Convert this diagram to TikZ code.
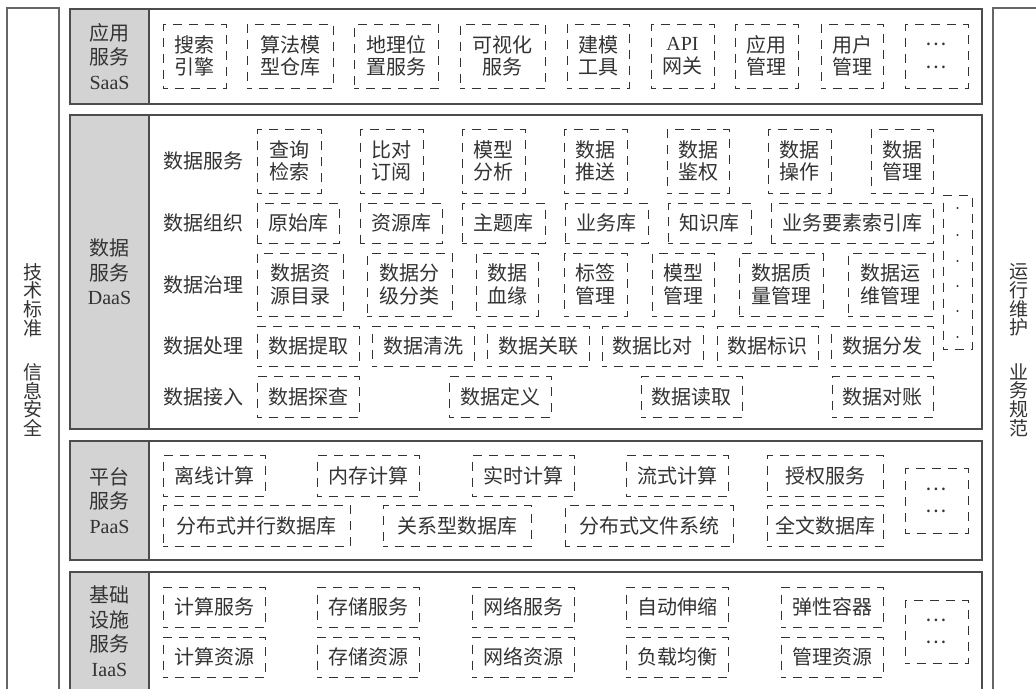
\documentclass[tikz,border=0pt]{standalone}
\usepackage{fontspec}
\setmainfont{Liberation Serif}
\newfontfamily\cjk{Noto Sans CJK SC}
\newcommand\lat[1]{{\rmfamily #1}}
\newcommand\vfont{\cjk\fontsize{19}{18.7}\selectfont\lineskiplimit=-30pt\relax\lineskip=0pt\relax}
\definecolor{cellgray}{HTML}{D3D3D3}
\definecolor{ink}{HTML}{333333}
\tikzset{
  dbox/.style={draw=ink, line width=0.9pt, dash pattern=on 9pt off 7pt, dash phase=4.5pt,
    inner sep=0pt, align=center, text=ink, font=\cjk\fontsize{20}{22.5}\selectfont},
  frame/.style={draw=black!70, line width=1.2pt},
  cell/.style={frame, fill=cellgray},
  lbl/.style={text=ink, align=center, inner sep=0pt,
    font=\cjk\fontsize{20}{24.5}\selectfont},
  rowlbl/.style={text=ink, inner sep=0pt, font=\cjk\fontsize{20}{22.5}\selectfont},
  side/.style={draw=black!60, line width=1.2pt},
  vtxt/.style={text=ink, align=center, inner sep=0pt, font=\vfont},
}
\newcommand\dbox[6]{\node[dbox, minimum width={(#4-#2)*1pt}, minimum height={(#5-#3)*1pt}] (#1) at ({(#2+#4)/2},{(#3+#5)/2}) {#6};}
\begin{document}
\begin{tikzpicture}[x=1pt,y=-1pt]
\useasboundingbox (0,0) rectangle (1036,688);
\clip (0,0) rectangle (1036,688);
\fill[white] (0,0) rectangle (1036,688);

% side columns
\draw[side] (7,8) rectangle (59,700);
\draw[side] (993,8) rectangle (1045,700);
\node[vtxt] (l1) at (33,300) {技\\术\\标\\准};
\node[vtxt] (l2) at (33,400) {信\\息\\安\\全};
\node[vtxt] (r1) at (1019,300) {运\\行\\维\\护};
\node[vtxt] (r2) at (1019,400) {业\\务\\规\\范};

% SaaS
\draw[frame] (70,9) rectangle (982,104);
\draw[cell] (70,9) rectangle (149,104);
\node[lbl] (saas) at (109.5,56.5) {应用\\服务\\\lat{SaaS}};
\dbox{s1}{163}{24}{226}{88}{搜索\\引擎}
\dbox{s2}{247}{24}{333}{88}{算法模\\型仓库}
\dbox{s3}{354}{24}{438}{88}{地理位\\置服务}
\dbox{s4}{460}{24}{545}{88}{可视化\\服务}
\dbox{s5}{567}{24}{629}{88}{建模\\工具}
\dbox{s6}{651}{24}{714}{88}{\lat{API}\\网关}
\dbox{s7}{735}{24}{798}{88}{应用\\管理}
\dbox{s8}{821}{24}{883}{88}{用户\\管理}
\dbox{s9}{905}{24}{968}{88}{…\\…}

% DaaS
\draw[frame] (70,115) rectangle (982,429);
\draw[cell] (70,115) rectangle (149,429);
\node[lbl] (daas) at (109.5,272) {数据\\服务\\\lat{DaaS}};
\node[rowlbl] (dl1) at (203,161) {数据服务};
\node[rowlbl] (dl2) at (203,223) {数据组织};
\node[rowlbl] (dl3) at (203,284.5) {数据治理};
\node[rowlbl] (dl4) at (203,346) {数据处理};
\node[rowlbl] (dl5) at (203,396.5) {数据接入};
% row 1
\dbox{d11}{257}{129}{321}{193}{查询\\检索}
\dbox{d12}{360}{129}{423}{193}{比对\\订阅}
\dbox{d13}{462}{129}{525}{193}{模型\\分析}
\dbox{d14}{564}{129}{627}{193}{数据\\推送}
\dbox{d15}{667}{129}{729}{193}{数据\\鉴权}
\dbox{d16}{768}{129}{831}{193}{数据\\操作}
\dbox{d17}{871}{129}{933}{193}{数据\\管理}
% row 2
\dbox{d21}{257}{203}{339}{243}{原始库}
\dbox{d22}{360}{203}{442}{243}{资源库}
\dbox{d23}{462}{203}{545}{243}{主题库}
\dbox{d24}{565}{203}{648}{243}{业务库}
\dbox{d25}{668}{203}{751}{243}{知识库}
\dbox{d26}{771}{203}{933}{243}{业务要素索引库}
% row 3
\dbox{d31}{257}{253}{343}{316}{数据资\\源目录}
\dbox{d32}{367}{253}{452}{316}{数据分\\级分类}
\dbox{d33}{476}{253}{538}{316}{数据\\血缘}
\dbox{d34}{564}{253}{627}{316}{标签\\管理}
\dbox{d35}{652}{253}{714}{316}{模型\\管理}
\dbox{d36}{739}{253}{823}{316}{数据质\\量管理}
\dbox{d37}{848}{253}{933}{316}{数据运\\维管理}
% row 4
\dbox{d41}{257}{326}{359}{366}{数据提取}
\dbox{d42}{372}{326}{474}{366}{数据清洗}
\dbox{d43}{487}{326}{589}{366}{数据关联}
\dbox{d44}{602}{326}{703}{366}{数据比对}
\dbox{d45}{717}{326}{818}{366}{数据标识}
\dbox{d46}{831}{326}{933}{366}{数据分发}
% row 5
\dbox{d51}{257}{376}{359}{417}{数据探查}
\dbox{d52}{449}{376}{551}{417}{数据定义}
\dbox{d53}{641}{376}{742}{417}{数据读取}
\dbox{d54}{832}{376}{933}{417}{数据对账}
% vertical dotted box
\dbox{dv}{943}{195}{972}{349}{}
\foreach \yy in {208,235,261,286,311,337} \fill[ink] (957.5,\yy) circle[radius=1.1pt];

% PaaS
\draw[frame] (70,441) rectangle (982,560);
\draw[cell] (70,441) rectangle (149,560);
\node[lbl] (paas) at (109.5,500.5) {平台\\服务\\\lat{PaaS}};
\dbox{p11}{163}{455}{265}{496}{离线计算}
\dbox{p12}{317}{455}{419}{496}{内存计算}
\dbox{p13}{472}{455}{574}{496}{实时计算}
\dbox{p14}{626}{455}{728}{496}{流式计算}
\dbox{p15}{767}{455}{883}{496}{授权服务}
\dbox{p21}{163}{505}{350}{546}{分布式并行数据库}
\dbox{p22}{383}{505}{531}{546}{关系型数据库}
\dbox{p23}{565}{505}{733}{546}{分布式文件系统}
\dbox{p24}{767}{505}{883}{546}{全文数据库}
\dbox{p9}{905}{468}{968}{533}{…\\…}

% IaaS
\draw[frame] (70,572) rectangle (982,692);
\draw[cell] (70,572) rectangle (149,692);
\node[lbl] (iaas) at (109.5,631) {基础\\设施\\服务\\\lat{IaaS}};
\dbox{i11}{163}{587}{265}{627}{计算服务}
\dbox{i12}{317}{587}{419}{627}{存储服务}
\dbox{i13}{472}{587}{574}{627}{网络服务}
\dbox{i14}{626}{587}{728}{627}{自动伸缩}
\dbox{i15}{781}{587}{883}{627}{弹性容器}
\dbox{i21}{163}{637}{265}{677}{计算资源}
\dbox{i22}{317}{637}{419}{677}{存储资源}
\dbox{i23}{472}{637}{574}{677}{网络资源}
\dbox{i24}{626}{637}{728}{677}{负载均衡}
\dbox{i25}{781}{637}{883}{677}{管理资源}
\dbox{i9}{905}{600}{968}{663}{…\\…}
\end{tikzpicture}
\end{document}
